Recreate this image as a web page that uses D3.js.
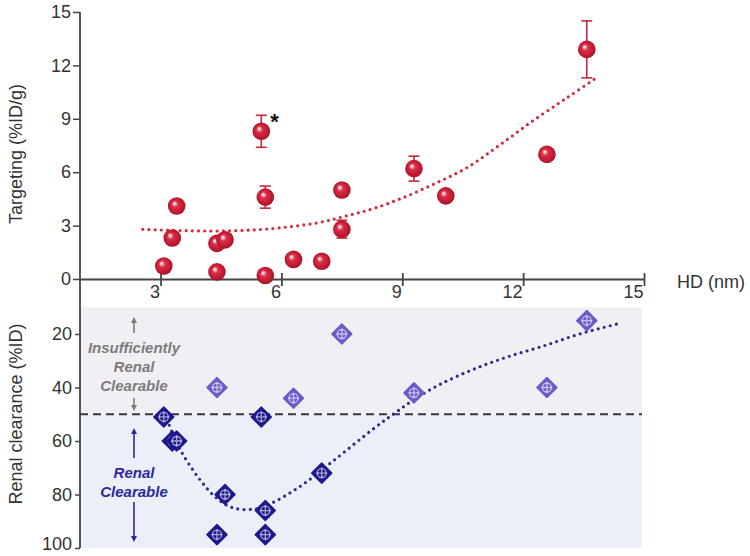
<!DOCTYPE html>
<html>
<head>
<meta charset="utf-8">
<script src="https://cdn.jsdelivr.net/npm/d3@7/dist/d3.min.js"></script>
<style>
  html, body { margin: 0; padding: 0; background: #fff; }
  svg { display: block; font-family: "Liberation Sans", Arial, sans-serif; }
</style>
</head>
<body>
<svg id="chart" width="750" height="556"></svg>
<script>
// ---------- data ----------
const hd        = [3.08, 3.29, 3.40, 4.40, 4.60, 4.40, 5.50, 5.60, 5.60, 6.30, 7.00, 7.50, 7.50, 9.29, 10.08, 12.59, 13.58];
const targeting = [0.73, 2.30, 4.10, 2.00, 2.20, 0.40, 8.30, 4.60, 0.20, 1.10, 1.00, 5.00, 2.80, 6.20, 4.67, 7.00, 12.90];
const targetErr = [0,    0,    0,    0,    0,    0,    0.90, 0.62, 0,    0,    0,    0,    0.50, 0.70, 0,    0,    1.60];

const clearHdLight = [4.40, 6.30, 7.50, 9.29, 12.59, 13.58];
const clearLight   = [40,   44,   20,   42,   40,    15];
const clearHdDark  = [3.08, 3.29, 3.40, 5.50, 4.60, 4.40, 5.60, 5.60, 7.00];
const clearDark    = [51,   60,   60,   51,   80,   95,   86,   95,   72];

const redTrendX = [2.56, 3.5, 4.5, 5.6, 6.9, 7.7, 8.3, 9.0, 9.8, 10.6, 11.4, 12.25, 13.1, 13.86];
const redTrendY = [2.79, 2.72, 2.70, 2.80, 3.16, 3.60, 3.97, 4.55, 5.35, 6.25, 7.50, 8.90, 10.20, 11.37];

const blueTrendX = [3.16, 3.48, 3.98, 4.4, 4.8, 5.3, 5.65, 6.46, 7.28, 8.32, 8.82, 9.29, 9.98, 10.8, 11.62, 12.5, 13.4, 14.4];
const blueTrendY = [52, 63, 74.5, 81.5, 85, 85.5, 84, 77, 67.5, 55, 49.5, 44.5, 38.5, 33, 28.5, 24.5, 20, 16];

const xTicks      = [3, 6, 9, 12, 15];
const yTopTicks   = [0, 3, 6, 9, 12, 15];
const yBotTicks   = [20, 40, 60, 80, 100];
const threshold   = 50;
const shadeTop    = 10;

// ---------- layout ----------
const svg = d3.select("#chart");
const x    = d3.scaleLinear().domain([1, 15]).range([80, 644]);
const yTop = d3.scaleLinear().domain([0, 15]).range([279, 12]);
const yBot = d3.scaleLinear().domain([0, 100]).range([280.5, 548]);

const axisColor = "#444";
const red = "#c8283c";
const lightPurple = "#6a5cc8";
const darkNavy = "#1e1a8c";

const defs = svg.append("defs");
const grad = defs.append("radialGradient").attr("id", "sphere")
  .attr("cx", "50%").attr("cy", "50%").attr("r", "55%")
  .attr("fx", "36%").attr("fy", "34%");
grad.append("stop").attr("offset", "0%").attr("stop-color", "#ffffff");
grad.append("stop").attr("offset", "14%").attr("stop-color", "#f4b0b8");
grad.append("stop").attr("offset", "32%").attr("stop-color", "#d8304a");
grad.append("stop").attr("offset", "75%").attr("stop-color", "#c0182f");
grad.append("stop").attr("offset", "100%").attr("stop-color", "#9a0c22");

// ---------- bottom panel shading ----------
svg.append("rect")
  .attr("x", x(1)).attr("y", yBot(shadeTop))
  .attr("width", x(15) - x(1) - 2).attr("height", yBot(threshold) - yBot(shadeTop))
  .attr("fill", "#f1eff3");
svg.append("rect")
  .attr("x", x(1)).attr("y", yBot(threshold))
  .attr("width", x(15) - x(1) - 2).attr("height", yBot(100) - yBot(threshold))
  .attr("fill", "#eceef8");

// dashed threshold line
svg.append("line")
  .attr("x1", x(1)).attr("x2", x(15) - 2)
  .attr("y1", yBot(threshold)).attr("y2", yBot(threshold))
  .attr("stroke", "#3a3a3a").attr("stroke-width", 2)
  .attr("stroke-dasharray", "8 5");

// ---------- axes ----------
const axisFont = 18;

// top y axis
const gyTop = svg.append("g")
  .attr("transform", `translate(${x(1)},0)`)
  .call(d3.axisLeft(yTop).tickValues(yTopTicks).tickSize(7).tickPadding(2).tickFormat(d3.format("d")));
// bottom y axis
const gyBot = svg.append("g")
  .attr("transform", `translate(${x(1)},0)`)
  .call(d3.axisLeft(yBot).tickValues(yBotTicks).tickSize(5).tickPadding(3).tickFormat(d3.format("d")));
[gyTop, gyBot].forEach(g => {
  g.select(".domain").remove();
  g.selectAll(".tick line").attr("stroke", axisColor).attr("stroke-width", 1.5);
  g.selectAll(".tick text").attr("fill", "#333").attr("font-size", axisFont)
    .attr("font-family", "Liberation Sans, Arial, sans-serif");
});
// keep the last bottom label inside the picture
gyBot.selectAll(".tick text").filter(d => d === 100).attr("dy", "0.1em");

// continuous vertical axis line
svg.append("line")
  .attr("x1", x(1)).attr("x2", x(1))
  .attr("y1", yTop(15)).attr("y2", yBot(100))
  .attr("stroke", axisColor).attr("stroke-width", 1.8);

// x axis
const gx = svg.append("g")
  .attr("transform", `translate(0,${yTop(0)})`)
  .call(d3.axisBottom(x).tickValues(xTicks).tickSizeInner(7).tickSizeOuter(0).tickPadding(3));
gx.select(".domain").attr("stroke", axisColor).attr("stroke-width", 1.8);
gx.selectAll(".tick line").attr("stroke", axisColor).attr("stroke-width", 1.8).attr("y1", -6).attr("y2", 7);
gx.selectAll(".tick text").attr("fill", "#333").attr("font-size", axisFont)
  .attr("font-family", "Liberation Sans, Arial, sans-serif")
  .attr("text-anchor", "end").attr("dx", -1).attr("dy", "0.5em");

// axis titles
svg.append("text")
  .attr("transform", `translate(22,${154}) rotate(-90)`)
  .attr("text-anchor", "middle").attr("font-size", 18).attr("fill", "#333")
  .text("Targeting (%ID/g)");
svg.append("text")
  .attr("transform", `translate(22,${414}) rotate(-90)`)
  .attr("text-anchor", "middle").attr("font-size", 18).attr("fill", "#333")
  .text("Renal clearance (%ID)");
svg.append("text")
  .attr("x", 677).attr("y", 288)
  .attr("font-size", 18).attr("fill", "#333")
  .text("HD (nm)");

// ---------- annotations in bottom panel ----------
const gray = "#7c7c7c";
const ann = svg.append("g").attr("font-weight", "bold").attr("font-style", "italic")
  .attr("font-size", 15).attr("text-anchor", "middle");
ann.append("text").attr("x", 134).attr("y", 353).attr("fill", gray).text("Insufficiently");
ann.append("text").attr("x", 134).attr("y", 372).attr("fill", gray).text("Renal");
ann.append("text").attr("x", 134).attr("y", 391).attr("fill", gray).text("Clearable");
ann.append("text").attr("x", 134).attr("y", 478).attr("fill", "#2a2a9a").text("Renal");
ann.append("text").attr("x", 134).attr("y", 497).attr("fill", "#2a2a9a").text("Clearable");

function arrow(x0, yFrom, yTo, color) {
  const dir = yTo < yFrom ? -1 : 1;
  svg.append("line").attr("x1", x0).attr("x2", x0).attr("y1", yFrom).attr("y2", yTo - dir * 3)
    .attr("stroke", color).attr("stroke-width", 1.6);
  svg.append("path")
    .attr("d", `M${x0},${yTo} L${x0 - 3},${yTo - dir * 6} L${x0 + 3},${yTo - dir * 6} Z`)
    .attr("fill", color);
}
arrow(134, 333, 317, gray);
arrow(134, 398, 411, gray);
arrow(134, 458, 428, "#2a2a9a");
arrow(134, 502, 542, "#2a2a9a");

// ---------- trend lines ----------
const redLine = d3.line().curve(d3.curveCatmullRom).x(d => x(d[0])).y(d => yTop(d[1]));
svg.append("path")
  .attr("d", redLine(d3.zip(redTrendX, redTrendY)))
  .attr("fill", "none").attr("stroke", "#d42a3a").attr("stroke-width", 3.2)
  .attr("stroke-linecap", "round").attr("stroke-dasharray", "0 6.2");

const blueLine = d3.line().curve(d3.curveCatmullRom).x(d => x(d[0])).y(d => yBot(d[1]));
svg.append("path")
  .attr("d", blueLine(d3.zip(blueTrendX, blueTrendY)))
  .attr("fill", "none").attr("stroke", "#2c2c8e").attr("stroke-width", 3.2)
  .attr("stroke-linecap", "round").attr("stroke-dasharray", "0 6.2");

// ---------- top panel points ----------
const topData = hd.map((h, i) => ({ h, v: targeting[i], e: targetErr[i] }));
const eb = svg.append("g").attr("stroke", red).attr("stroke-width", 1.6);
topData.filter(d => d.e > 0).forEach(d => {
  const cx = x(d.h);
  eb.append("line").attr("x1", cx).attr("x2", cx).attr("y1", yTop(d.v - d.e)).attr("y2", yTop(d.v + d.e));
  eb.append("line").attr("x1", cx - 5.5).attr("x2", cx + 5.5).attr("y1", yTop(d.v + d.e)).attr("y2", yTop(d.v + d.e));
  eb.append("line").attr("x1", cx - 5.5).attr("x2", cx + 5.5).attr("y1", yTop(d.v - d.e)).attr("y2", yTop(d.v - d.e));
});
svg.append("g").selectAll("circle").data(topData).join("circle")
  .attr("cx", d => x(d.h)).attr("cy", d => yTop(d.v)).attr("r", 8.8)
  .attr("fill", "url(#sphere)");

// asterisk
svg.append("text").attr("x", x(5.5) + 9).attr("y", 129)
  .attr("font-size", 22).attr("font-weight", "bold").attr("fill", "#111").text("*");

// ---------- bottom panel points ----------
function diamonds(xs, vs, color) {
  const g = svg.append("g");
  const pts = xs.map((h, i) => ({ h, v: vs[i] }));
  const s = g.selectAll("g").data(pts).join("g")
    .attr("transform", d => `translate(${x(d.h)},${yBot(d.v)})`);
  s.append("path").attr("d", "M0,-10 L10,0 L0,10 L-10,0 Z")
    .attr("fill", color).attr("stroke", color).attr("stroke-width", 1.5).attr("stroke-linejoin", "round");
  s.append("circle").attr("r", 4.5).attr("fill", "none")
    .attr("stroke", "rgba(255,255,255,0.6)").attr("stroke-width", 1.3);
  s.append("path").attr("d", "M-5.5,0 H5.5 M0,-5.5 V5.5")
    .attr("stroke", "rgba(255,255,255,0.6)").attr("stroke-width", 1.3);
}
diamonds(clearHdLight, clearLight, lightPurple);
diamonds(clearHdDark, clearDark, darkNavy);
</script>
</body>
</html>
